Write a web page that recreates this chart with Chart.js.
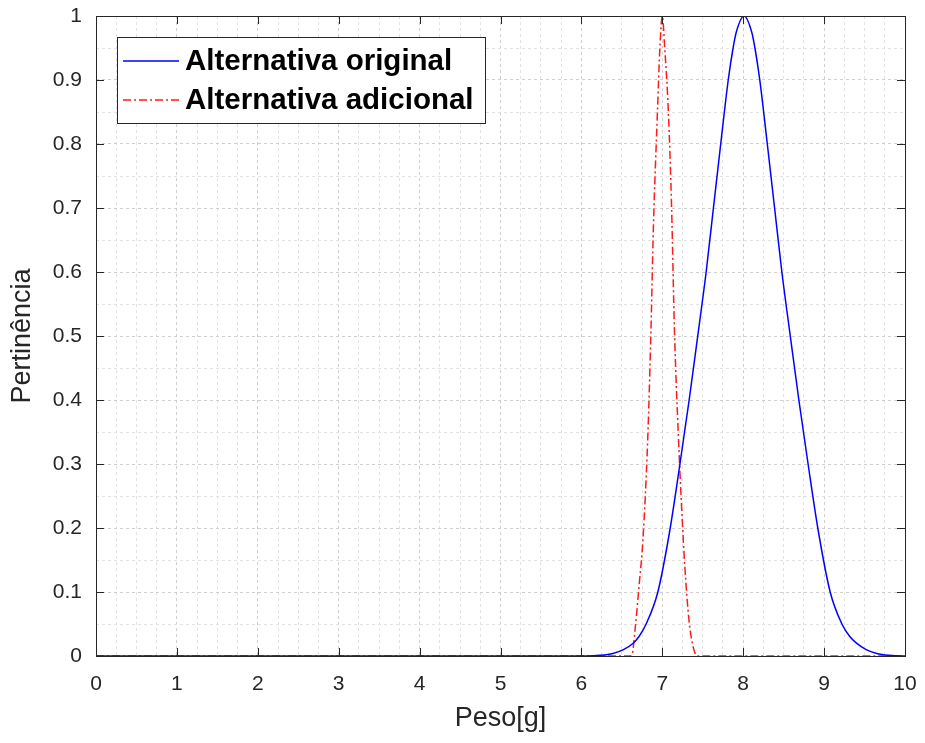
<!DOCTYPE html>
<html>
<head>
<meta charset="utf-8">
<script src="https://cdn.jsdelivr.net/npm/chart.js@4.4.0/dist/chart.umd.min.js"></script>
<style>
  html, body { margin: 0; padding: 0; background: #fff; }
  #wrap { width: 925px; height: 743px; }
</style>
</head>
<body>
<div id="wrap"><canvas id="chart" width="925" height="743"></canvas></div>
<script>
// values
const xTickLabels = ['0','1','2','3','4','5','6','7','8','9','10'];
const yTickLabels = ['0','0.1','0.2','0.3','0.4','0.5','0.6','0.7','0.8','0.9','1'];

const blueX = [0, 1, 2, 3, 4, 5, 6.06, 6.23, 6.39, 6.52, 6.64, 6.71, 6.80, 6.945, 7.098, 7.218, 7.332, 7.438, 7.542, 7.632, 7.722, 7.815, 7.875, 7.915, 8.01,
               8.105, 8.145, 8.205, 8.298, 8.388, 8.478, 8.582, 8.688, 8.802, 8.922, 9.075, 9.22, 9.32, 9.40, 9.52, 9.65, 9.80, 9.96, 10];
const blueY = [0, 0, 0, 0, 0, 0, 0, 0.001, 0.004, 0.01, 0.02, 0.03, 0.05, 0.1, 0.2, 0.3, 0.4, 0.5, 0.6, 0.7, 0.8, 0.9, 0.95, 0.975, 1.0,
               0.975, 0.95, 0.9, 0.8, 0.7, 0.6, 0.5, 0.4, 0.3, 0.2, 0.1, 0.05, 0.03, 0.02, 0.01, 0.004, 0.001, 0, 0];

const redX = [0, 1, 2, 3, 4, 5, 6, 6.62, 6.67, 6.72, 6.76, 6.82, 6.86, 6.89, 6.94, 6.97, 7.0, 7.03, 7.075, 7.115, 7.15, 7.2, 7.26, 7.3, 7.335, 7.38, 7.43, 8, 9, 10];
const redY = [0, 0, 0, 0, 0, 0, 0, 0, 0.05, 0.12, 0.18, 0.34, 0.51, 0.67, 0.85, 0.95, 1.0, 0.95, 0.85, 0.7, 0.51, 0.34, 0.18, 0.1, 0.05, 0.015, 0, 0, 0, 0];

const seriesNames = ['Alternativa original', 'Alternativa adicional'];

const FONT = '"Liberation Sans", Arial, Helvetica, sans-serif';
const AXIS = '#262626';
const redDash = [8, 3, 2, 3];

function pairs(xs, ys) {
  return xs.map((x, i) => ({ x: x, y: ys[i] }));
}

// box, inward tick marks and the legend, matlab style
const matlabAxes = {
  id: 'matlabAxes',
  afterDatasetsDraw(chart) {
    const ctx = chart.ctx;
    const a = chart.chartArea;
    const xs = chart.scales.x, ys = chart.scales.y;
    ctx.save();
    ctx.strokeStyle = AXIS;
    ctx.lineWidth = 1;
    ctx.setLineDash([]);
    ctx.beginPath();
    xTickLabels.forEach(t => {
      const px = Math.round(xs.getPixelForValue(Number(t))) + 0.5;
      ctx.moveTo(px, a.bottom); ctx.lineTo(px, a.bottom - 8);
      ctx.moveTo(px, a.top); ctx.lineTo(px, a.top + 8);
    });
    yTickLabels.forEach(t => {
      const py = Math.round(ys.getPixelForValue(Number(t))) + 0.5;
      ctx.moveTo(a.left, py); ctx.lineTo(a.left + 8, py);
      ctx.moveTo(a.right, py); ctx.lineTo(a.right - 8, py);
    });
    ctx.stroke();
    ctx.strokeRect(Math.round(a.left) + 0.5, Math.round(a.top) + 0.5,
                   Math.round(a.right - a.left), Math.round(a.bottom - a.top));

    // legend
    const lx = a.left + 21, ly = a.top + 21, lw = 368, lh = 86;
    ctx.fillStyle = '#fff';
    ctx.fillRect(lx, ly, lw, lh);
    ctx.strokeStyle = AXIS;
    ctx.strokeRect(lx + 0.5, ly + 0.5, lw, lh);
    ctx.font = 'bold 29.5px ' + FONT;
    ctx.textBaseline = 'middle';
    chart.data.datasets.forEach((ds, i) => {
      const cy = ly + 24 + i * 39;
      ctx.strokeStyle = ds.borderColor;
      ctx.lineWidth = ds.borderWidth;
      ctx.setLineDash(ds.borderDash || []);
      ctx.beginPath();
      ctx.moveTo(lx + 6, cy); ctx.lineTo(lx + 62, cy);
      ctx.stroke();
      ctx.setLineDash([]);
      ctx.fillStyle = '#000';
      ctx.fillText(ds.label, lx + 68, cy + 1);
    });
    ctx.restore();
  }
};

new Chart(document.getElementById('chart'), {
  type: 'line',
  data: {
    datasets: [
      {
        label: seriesNames[0],
        data: pairs(blueX, blueY),
        borderColor: '#0000ff',
        borderWidth: 1.5,
        pointRadius: 0,
        cubicInterpolationMode: 'monotone',
        fill: false
      },
      {
        label: seriesNames[1],
        data: pairs(redX, redY),
        borderColor: '#ff1a1a',
        borderWidth: 1.5,
        borderDash: redDash,
        pointRadius: 0,
        cubicInterpolationMode: 'monotone',
        fill: false
      }
    ]
  },
  options: {
    responsive: false,
    animation: false,
    layout: { padding: { top: 16, right: 20, left: 0, bottom: 0 } },
    plugins: { legend: { display: false }, tooltip: { enabled: false } },
    scales: {
      x: {
        type: 'linear',
        min: 0, max: 10,
        afterFit(scale) { scale.height = 87; scale.paddingLeft = 0; scale.paddingRight = 0; },
        ticks: {
          stepSize: 0.25,
          autoSkip: false,
          maxRotation: 0,
          padding: 16,
          color: AXIS,
          font: { family: FONT, size: 21 },
          callback: (v, i) => (i % 4 === 0 ? xTickLabels[i / 4] : '')
        },
        grid: {
          drawTicks: false,
          color: ctx => (ctx.index % 4 === 0 ? '#cfcfcf' : '#e2e2e2'),
          lineWidth: 1
        },
        border: { display: false, dash: [3, 3] },
        title: {
          display: true,
          text: 'Peso[g]',
          color: AXIS,
          font: { family: FONT, size: 27 },
          padding: { top: 0, bottom: 8 }
        }
      },
      y: {
        min: 0, max: 1,
        afterFit(scale) { scale.width = 96; scale.paddingTop = 0; scale.paddingBottom = 0; },
        ticks: {
          stepSize: 0.05,
          autoSkip: false,
          padding: 14,
          color: AXIS,
          font: { family: FONT, size: 21 },
          callback: (v, i) => (i % 2 === 0 ? yTickLabels[i / 2] : '')
        },
        grid: {
          drawTicks: false,
          color: ctx => (ctx.index % 2 === 0 ? '#cfcfcf' : '#e2e2e2'),
          lineWidth: 1
        },
        border: { display: false, dash: [3, 3] },
        title: {
          display: true,
          text: 'Pertinência',
          color: AXIS,
          font: { family: FONT, size: 27 },
          padding: { top: 6, bottom: 0 }
        }
      }
    }
  },
  plugins: [matlabAxes]
});
</script>
</body>
</html>
